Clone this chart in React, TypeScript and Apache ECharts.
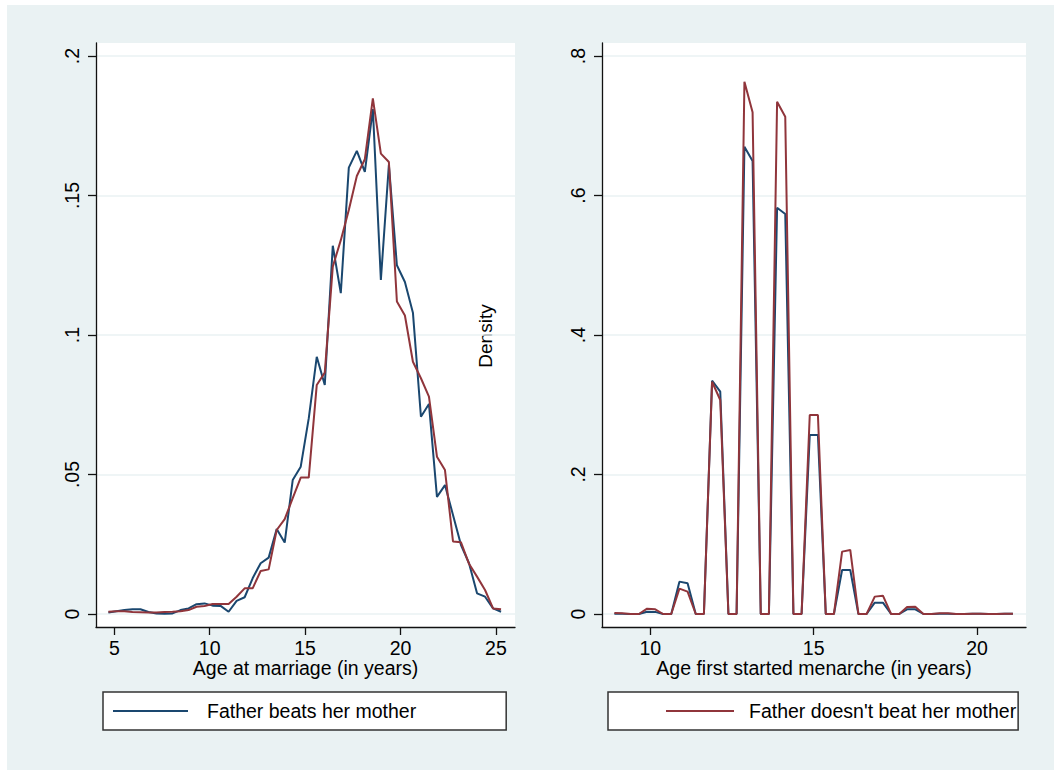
import React, { useEffect, useRef } from 'react';
import * as echarts from 'echarts';

const SERIES_BEATS = 'Father beats her mother';
const SERIES_NOT = "Father doesn't beat her mother";

// Left panel: Age at marriage (kernel density evaluation points)
const marriageAge = [
  4.69, 5.11, 5.53, 5.95, 6.37, 6.79, 7.21, 7.63, 8.05, 8.47,
  8.89, 9.31, 9.73, 10.15, 10.57, 10.99, 11.41, 11.83, 12.25, 12.67,
  13.09, 13.51, 13.93, 14.35, 14.77, 15.19, 15.61, 16.03, 16.45, 16.87,
  17.29, 17.71, 18.13, 18.55, 18.97, 19.39, 19.81, 20.23, 20.65, 21.07,
  21.49, 21.91, 22.33, 22.75, 23.17, 23.59, 24.01, 24.43, 24.85, 25.27,
];
const marriageBeats = [
  0.0005, 0.001, 0.0014, 0.0017, 0.0017, 0.0007, 0.0002, 0.0001, 0.0002, 0.0014,
  0.002, 0.0035, 0.0038, 0.003, 0.0029, 0.0008, 0.0047, 0.006, 0.0128, 0.0182,
  0.0202, 0.0305, 0.0256, 0.048, 0.0528, 0.0701, 0.0922, 0.0821, 0.132, 0.115,
  0.16, 0.166, 0.1585, 0.181, 0.1197, 0.161, 0.125, 0.119, 0.108, 0.0707,
  0.0753, 0.042, 0.0462, 0.0355, 0.0247, 0.0182, 0.0074, 0.0062, 0.002, 0.0008,
];
const marriageNotBeats = [
  0.0008, 0.001, 0.001, 0.0007, 0.0006, 0.0005, 0.0005, 0.0007, 0.0008, 0.001,
  0.0014, 0.0026, 0.0029, 0.0036, 0.0036, 0.0036, 0.0062, 0.0092, 0.0092, 0.0154,
  0.016, 0.0301, 0.034, 0.0415, 0.0489, 0.0489, 0.0821, 0.0865, 0.1245, 0.134,
  0.1448, 0.157, 0.163, 0.1848, 0.165, 0.162, 0.112, 0.107, 0.0904, 0.0845,
  0.0779, 0.0564, 0.0516, 0.026, 0.0257, 0.018, 0.0134, 0.0086, 0.002, 0.0017,
];

// Right panel: Age first started menarche
const menarcheAge = [
  8.9, 9.15, 9.4, 9.65, 9.9, 10.15, 10.39, 10.64, 10.89, 11.14,
  11.39, 11.64, 11.89, 12.14, 12.39, 12.64, 12.88, 13.13, 13.38, 13.63,
  13.88, 14.13, 14.38, 14.63, 14.88, 15.13, 15.37, 15.62, 15.87, 16.12,
  16.37, 16.62, 16.87, 17.12, 17.37, 17.62, 17.86, 18.11, 18.36, 18.61,
  18.86, 19.11, 19.36, 19.61, 19.86, 20.11, 20.35, 20.6, 20.85, 21.1,
];
const menarcheBeats = [
  0.0005, 0.0002, 0, 0, 0.0033, 0.003, 0, 0, 0.0464, 0.044,
  0, 0, 0.3345, 0.3188, 0, 0, 0.67, 0.6495, 0, 0,
  0.5825, 0.5735, 0, 0, 0.2566, 0.2566, 0, 0, 0.0631, 0.0631,
  0, 0, 0.0162, 0.0162, 0, 0, 0.0067, 0.0067, 0, 0,
  0.0005, 0.0005, 0, 0, 0.0002, 0.0002, 0, 0, 0.0003, 0.0003,
];
const menarcheNotBeats = [
  0.0014, 0.001, 0, 0, 0.0076, 0.0067, 0, 0, 0.0363, 0.032,
  0, 0, 0.333, 0.3068, 0, 0, 0.7632, 0.7192, 0, 0,
  0.7345, 0.713, 0, 0, 0.2853, 0.2853, 0, 0, 0.0894, 0.0918,
  0, 0, 0.0249, 0.0263, 0, 0, 0.01, 0.0105, 0, 0,
  0.001, 0.001, 0, 0, 0.0005, 0.0005, 0, 0, 0.0005, 0.0005,
];

const marriageXTicks = [5, 10, 15, 20, 25];
const marriageYTicks = [0, 0.05, 0.1, 0.15, 0.2];
const marriageYLabels = ['0', '.05', '.1', '.15', '.2'];
const menarcheXTicks = [10, 15, 20];
const menarcheYTicks = [0, 0.2, 0.4, 0.6, 0.8];
const menarcheYLabels = ['0', '.2', '.4', '.6', '.8'];

const FONT = "'Liberation Sans', Arial, Helvetica, sans-serif";
const FS = 19.5;
const BLUE = '#1a476f';
const RED = '#90353b';
const BG = '#eaf2f3';
const AXIS = '#111';

const pairs = (xs: number[], ys: number[]) => xs.map((x, i) => [x, ys[i]]);

const labelFor = (ticks: number[], labels: string[]) => (v: number) => {
  const i = ticks.findIndex((t) => Math.abs(t - v) < 1e-9);
  return i >= 0 ? labels[i] : String(v);
};

function xAxisFor(gridIndex: number, min: number, max: number, ticks: number[], name: string) {
  return {
    type: 'value',
    gridIndex,
    min,
    max,
    name,
    nameLocation: 'middle',
    nameGap: 31,
    nameMoveOverlap: false,
    nameTextStyle: { fontFamily: FONT, fontSize: FS, color: '#000' },
    axisLine: { show: true, onZero: false, lineStyle: { color: AXIS, width: 1.3 } },
    axisTick: { show: true, length: 8, customValues: ticks, lineStyle: { color: AXIS, width: 1.3 } },
    axisLabel: {
      customValues: ticks,
      margin: 11,
      fontFamily: FONT,
      fontSize: FS,
      color: '#000',
      formatter: (v: number) => String(v),
    },
    splitLine: { show: false },
  };
}

function yAxisFor(gridIndex: number, min: number, max: number, ticks: number[], labels: string[]) {
  return {
    type: 'value',
    gridIndex,
    min,
    max,
    axisLine: { show: true, onZero: false, lineStyle: { color: AXIS, width: 1.3 } },
    axisTick: { show: true, length: 8, customValues: ticks, lineStyle: { color: AXIS, width: 1.3 } },
    axisLabel: {
      customValues: ticks,
      rotate: 90,
      margin: 14,
      fontFamily: FONT,
      fontSize: FS,
      color: '#000',
      formatter: labelFor(ticks, labels),
    },
    splitLine: { show: true, lineStyle: { color: BG, width: 1.5 } },
  };
}

export default function App() {
  const ref = useRef<HTMLDivElement>(null);

  useEffect(() => {
    if (!ref.current) return;
    const chart = echarts.init(ref.current, undefined, { renderer: 'svg' });
    const legendCommon = {
      show: true,
      orient: 'horizontal',
      top: 687,
      backgroundColor: '#ffffff',
      borderColor: '#333',
      borderWidth: 1.5,
      borderRadius: 0,
      icon: 'rect',
      itemHeight: 2,
      selectedMode: false,
    };
    chart.setOption({
      animation: false,
      backgroundColor: BG,
      grid: [
        { left: 89, top: 38, width: 419, height: 584, show: true, backgroundColor: '#ffffff', borderWidth: 0 },
        { left: 595, top: 38, width: 424, height: 584, show: true, backgroundColor: '#ffffff', borderWidth: 0 },
      ],
      xAxis: [
        xAxisFor(0, 4.04, 26.0, marriageXTicks, 'Age at marriage (in years)'),
        xAxisFor(1, 8.52, 21.5, menarcheXTicks, 'Age first started menarche (in years)'),
      ],
      yAxis: [
        yAxisFor(0, -0.00466, 0.20466, marriageYTicks, marriageYLabels),
        yAxisFor(1, -0.01864, 0.81864, menarcheYTicks, menarcheYLabels),
      ],
      legend: [
        {
          ...legendCommon,
          left: 96,
          data: [SERIES_BEATS],
          padding: [9, 90, 9, 10],
          itemWidth: 75,
          textStyle: { fontFamily: FONT, fontSize: FS, color: '#000', padding: [0, 0, 0, 14] },
        },
        {
          ...legendCommon,
          left: 601,
          data: [SERIES_NOT],
          padding: [9, 2, 9, 58],
          itemWidth: 68,
          textStyle: { fontFamily: FONT, fontSize: FS, color: '#000', padding: [0, 0, 0, 10] },
        },
      ],
      graphic: [
        {
          type: 'text',
          x: 478,
          y: 331,
          rotation: Math.PI / 2,
          style: {
            text: 'Density',
            fontFamily: FONT,
            fontSize: 19,
            fill: '#000',
            align: 'center',
            verticalAlign: 'middle',
            textAlign: 'center',
            textVerticalAlign: 'middle',
          },
        },
      ],
      series: [
        {
          type: 'line', name: SERIES_BEATS, xAxisIndex: 0, yAxisIndex: 0,
          data: pairs(marriageAge, marriageBeats), symbol: 'none',
          lineStyle: { color: BLUE, width: 2 }, itemStyle: { color: BLUE },
        },
        {
          type: 'line', name: SERIES_NOT, xAxisIndex: 0, yAxisIndex: 0,
          data: pairs(marriageAge, marriageNotBeats), symbol: 'none',
          lineStyle: { color: RED, width: 2 }, itemStyle: { color: RED },
        },
        {
          type: 'line', name: SERIES_BEATS, xAxisIndex: 1, yAxisIndex: 1,
          data: pairs(menarcheAge, menarcheBeats), symbol: 'none',
          lineStyle: { color: BLUE, width: 2 }, itemStyle: { color: BLUE },
        },
        {
          type: 'line', name: SERIES_NOT, xAxisIndex: 1, yAxisIndex: 1,
          data: pairs(menarcheAge, menarcheNotBeats), symbol: 'none',
          lineStyle: { color: RED, width: 2 }, itemStyle: { color: RED },
        },
      ],
    });
    return () => chart.dispose();
  }, []);

  return (
    <div style={{ position: 'fixed', left: 0, top: 0, width: 1054, height: 770, background: '#ffffff' }}>
      <div ref={ref} style={{ position: 'absolute', left: 7, top: 5, width: 1047, height: 765 }} />
    </div>
  );
}
